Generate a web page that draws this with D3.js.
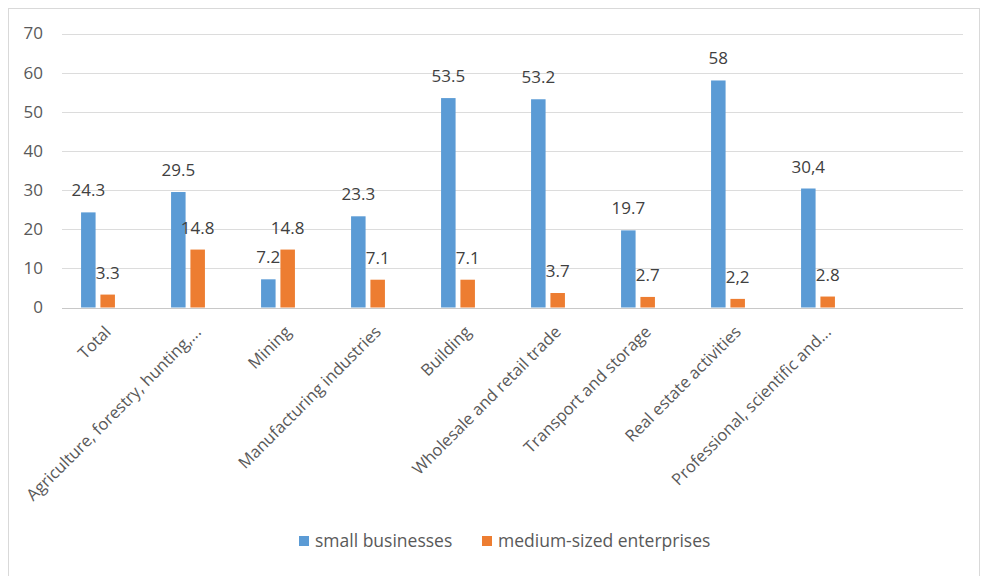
<!DOCTYPE html>
<html>
<head>
<meta charset="utf-8">
<script src="https://cdn.jsdelivr.net/npm/d3@7"></script>
<style>
  body { margin: 0; background: #fff; }
  svg { display: block; font-family: "Open Sans", sans-serif; }
</style>
</head>
<body>
<div id="chart"></div>
<script>
const categories = [
    "Total",
    "Agriculture, forestry, hunting,...",
    "Mining",
    "Manufacturing industries",
    "Building",
    "Wholesale and retail trade",
    "Transport and storage",
    "Real estate activities",
    "Professional, scientific and..."
];
const smallValues = [24.3, 29.5, 7.2, 23.3, 53.5, 53.2, 19.7, 58, 30.4];
const mediumValues = [3.3, 14.8, 14.8, 7.1, 7.1, 3.7, 2.7, 2.2, 2.8];
// labels as printed on the chart (some use a decimal comma)
const smallLabels = ["24.3", "29.5", "7.2", "23.3", "53.5", "53.2", "19.7", "58", "30,4"];
const mediumLabels = ["3.3", "14.8", "14.8", "7.1", "7.1", "3.7", "2.7", "2,2", "2.8"];
const seriesNames = ["small businesses", "medium-sized enterprises"];
const yTicks = [0, 10, 20, 30, 40, 50, 60, 70];

let width = 984,
    height = 576;
const colors = ["#5b9bd5", "#ed7d31"];
const textColor = "#595959";

const svg = d3.select("#chart").append("svg")
    .attr("width", width)
    .attr("height", height);

svg.append("rect")
    .attr("x", 8.5).attr("y", 8.5)
    .attr("width", 971).attr("height", 600)
    .attr("fill", "#fff")
    .attr("stroke", "#d9d9d9");

const y = d3.scaleLinear().domain([0, 70]).range([307.5, 33.5]);

// categories sit in the first 9 of 10 equal slots
const x = d3.scaleBand()
    .domain(categories)
    .range([53, 53 + 90 * categories.length]);

const xs = d3.scaleBand()
    .domain([0, 1])
    .range([0, x.bandwidth()])
    .paddingInner(0.25)
    .paddingOuter(1.45);

// grid
svg.append("g")
    .selectAll("line")
    .data(yTicks)
    .join("line")
    .attr("x1", 62).attr("x2", 963)
    .attr("y1", d => Math.round(y(d)) + 0.5)
    .attr("y2", d => Math.round(y(d)) + 0.5)
    .attr("stroke", d => d === 0 ? "#c8c8c8" : "#dcdcdc");

svg.append("g")
    .selectAll("text")
    .data(yTicks)
    .join("text")
    .attr("x", 43)
    .attr("y", d => y(d))
    .attr("dy", "0.35em")
    .attr("text-anchor", "end")
    .attr("fill", textColor)
    .attr("font-size", 17)
    .text(d => d);

const series = [
    { values: smallValues, labels: smallLabels },
    { values: mediumValues, labels: mediumLabels }
];

series.forEach((s, si) => {
    const g = svg.append("g");
    g.selectAll("rect")
        .data(categories)
        .join("rect")
        .attr("x", d => x(d) + xs(si))
        .attr("width", xs.bandwidth())
        .attr("y", (d, i) => y(s.values[i]))
        .attr("height", (d, i) => y(0) - y(s.values[i]))
        .attr("fill", colors[si]);

    g.selectAll("text")
        .data(categories)
        .join("text")
        .attr("x", d => x(d) + xs(si) + xs.bandwidth() / 2)
        .attr("y", (d, i) => y(s.values[i]) - 16)
        .attr("text-anchor", "middle")
        .attr("fill", "#404040")
        .attr("font-size", 17)
        .text((d, i) => s.labels[i]);
});

// category labels
svg.append("g")
    .selectAll("text")
    .data(categories)
    .join("text")
    .attr("transform", d => `translate(${x(d) + x.bandwidth() / 2 + 14}, 333) rotate(-45)`)
    .attr("text-anchor", "end")
    .attr("fill", textColor)
    .attr("font-size", 16.5)
    .text(d => d);

// legend
const legendPos = [299, 482];
const legend = svg.append("g")
    .selectAll("g")
    .data(seriesNames)
    .join("g")
    .attr("transform", (d, i) => `translate(${legendPos[i]}, 541)`);

legend.append("rect")
    .attr("x", 0).attr("y", -5)
    .attr("width", 10).attr("height", 10)
    .attr("fill", (d, i) => colors[i]);

legend.append("text")
    .attr("x", 16)
    .attr("dy", "0.35em")
    .attr("fill", textColor)
    .attr("font-size", 17.5)
    .text(d => d);
</script>
</body>
</html>
